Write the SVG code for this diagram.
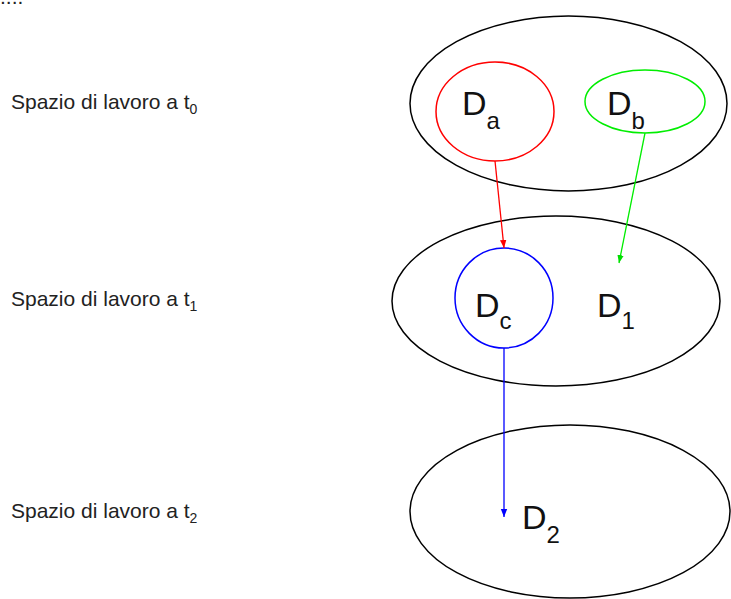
<svg xmlns="http://www.w3.org/2000/svg" width="731" height="599" viewBox="0 0 731 599">
  <defs>
    <style>
      .space { fill: none; stroke: #000; stroke-width: 1.5; }
      .lbl { font-family: "Liberation Sans", Arial, sans-serif; font-size: 21px; fill: #222; }
      .sub { font-size: 14px; }
      .big { font-family: "Liberation Sans", Arial, sans-serif; font-size: 34px; fill: #111; }
      .bsub { font-size: 24px; }
      .conn { fill: none; stroke-width: 1.3; }
    </style>
    <marker id="ahRed" viewBox="0 0 10 10" refX="10" refY="5" markerWidth="8" markerHeight="8" orient="auto" markerUnits="userSpaceOnUse">
      <path d="M0,1 L10,5 L0,9 Z" fill="#ff0000"/>
    </marker>
    <marker id="ahGreen" viewBox="0 0 10 10" refX="10" refY="5" markerWidth="8" markerHeight="8" orient="auto" markerUnits="userSpaceOnUse">
      <path d="M0,1 L10,5 L0,9 Z" fill="#00dd00"/>
    </marker>
    <marker id="ahBlue" viewBox="0 0 10 10" refX="10" refY="5" markerWidth="8" markerHeight="8" orient="auto" markerUnits="userSpaceOnUse">
      <path d="M0,1 L10,5 L0,9 Z" fill="#0000ff"/>
    </marker>
  </defs>

  <rect width="731" height="599" fill="#fff"/>

  <text class="lbl" x="0" y="4">....</text>

  <!-- row labels -->
  <g id="label-t0"><text class="lbl" x="11" y="109">Spazio di lavoro a t<tspan class="sub" dy="5">0</tspan></text></g>
  <g id="label-t1"><text class="lbl" x="11" y="306">Spazio di lavoro a t<tspan class="sub" dy="5">1</tspan></text></g>
  <g id="label-t2"><text class="lbl" x="11" y="518">Spazio di lavoro a t<tspan class="sub" dy="5">2</tspan></text></g>

  <!-- workspaces -->
  <g id="space-t0"><ellipse class="space" cx="568.5" cy="103.5" rx="158.5" ry="87.5"/></g>
  <g id="space-t1"><ellipse class="space" cx="556" cy="301" rx="164" ry="85"/></g>
  <g id="space-t2"><ellipse class="space" cx="570" cy="511.5" rx="160" ry="86.5"/></g>

  <!-- domains -->
  <g id="Da">
    <ellipse cx="495" cy="111.5" rx="59" ry="49.5" fill="none" stroke="#ff0000" stroke-width="1.5"/>
    <text class="big" x="462" y="115">D<tspan class="bsub" dy="14">a</tspan></text>
  </g>
  <g id="Db">
    <ellipse cx="645" cy="101.5" rx="60" ry="31.5" fill="none" stroke="#00ee00" stroke-width="1.5"/>
    <text class="big" x="607" y="115">D<tspan class="bsub" dy="14">b</tspan></text>
  </g>
  <g id="Dc">
    <ellipse cx="504" cy="298" rx="49" ry="50" fill="none" stroke="#0000ff" stroke-width="1.5"/>
    <text class="big" x="475" y="317">D<tspan class="bsub" dy="12">c</tspan></text>
  </g>
  <g id="D1">
    <text class="big" x="597" y="317">D<tspan class="bsub" dy="12">1</tspan></text>
  </g>
  <g id="D2">
    <text class="big" x="522" y="529">D<tspan class="bsub" dy="14">2</tspan></text>
  </g>

  <!-- transitions -->
  <g id="connectors">
    <line class="conn" x1="495" y1="161" x2="504" y2="248" stroke="#ff0000" marker-end="url(#ahRed)"/>
    <line class="conn" x1="645" y1="133" x2="619" y2="263" stroke="#00ee00" marker-end="url(#ahGreen)"/>
    <line class="conn" x1="504" y1="348" x2="504" y2="517" stroke="#0000ff" marker-end="url(#ahBlue)"/>
  </g>
</svg>
